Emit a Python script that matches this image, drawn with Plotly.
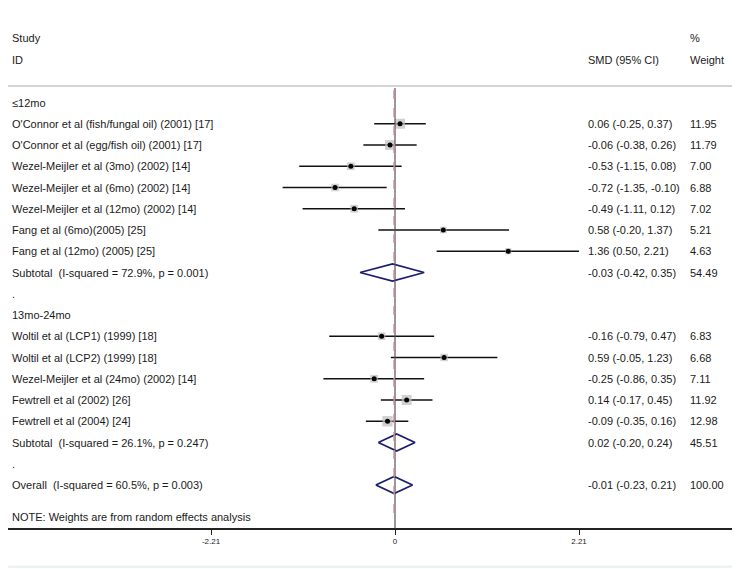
import plotly.graph_objects as go

# ---- data ----
group1_name = "≤12mo"
group1_studies = [
    "O'Connor et al (fish/fungal oil) (2001) [17]",
    "O'Connor et al (egg/fish oil) (2001) [17]",
    "Wezel-Meijler et al (3mo) (2002) [14]",
    "Wezel-Meijler et al (6mo) (2002) [14]",
    "Wezel-Meijler et al (12mo) (2002) [14]",
    "Fang et al (6mo)(2005) [25]",
    "Fang et al (12mo) (2005) [25]",
]
group1_smd = [0.06, -0.06, -0.53, -0.72, -0.49, 0.58, 1.36]
group1_lo = [-0.25, -0.38, -1.15, -1.35, -1.11, -0.20, 0.50]
group1_hi = [0.37, 0.26, 0.08, -0.10, 0.12, 1.37, 2.21]
group1_w = [11.95, 11.79, 7.00, 6.88, 7.02, 5.21, 4.63]
group1_sub = (-0.03, -0.42, 0.35, 54.49)
group1_sub_label = "Subtotal  (I-squared = 72.9%, p = 0.001)"

group2_name = "13mo-24mo"
group2_studies = [
    "Woltil et al (LCP1) (1999) [18]",
    "Woltil et al (LCP2) (1999) [18]",
    "Wezel-Meijler et al (24mo) (2002) [14]",
    "Fewtrell et al (2002) [26]",
    "Fewtrell et al (2004) [24]",
]
group2_smd = [-0.16, 0.59, -0.25, 0.14, -0.09]
group2_lo = [-0.79, -0.05, -0.86, -0.17, -0.35]
group2_hi = [0.47, 1.23, 0.35, 0.45, 0.16]
group2_w = [6.83, 6.68, 7.11, 11.92, 12.98]
group2_sub = (0.02, -0.20, 0.24, 45.51)
group2_sub_label = "Subtotal  (I-squared = 26.1%, p = 0.247)"

overall = (-0.01, -0.23, 0.21, 100.00)
overall_label = "Overall  (I-squared = 60.5%, p = 0.003)"
note = "NOTE: Weights are from random effects analysis"

tick_vals = [-2.21, 0, 2.21]
tick_text = ["-2.21", "0", "2.21"]

# ---- build rows ----
rows = []  # (kind, label, est, lo, hi, weight)
for name, studies, smd, lo, hi, w, sub, sub_label in [
    (group1_name, group1_studies, group1_smd, group1_lo, group1_hi, group1_w, group1_sub, group1_sub_label),
    (group2_name, group2_studies, group2_smd, group2_lo, group2_hi, group2_w, group2_sub, group2_sub_label),
]:
    rows.append(("head", name, None, None, None, None))
    for s, e, l, h, ww in zip(studies, smd, lo, hi, w):
        rows.append(("study", s, e, l, h, ww))
    rows.append(("sub", sub_label, *sub))
    rows.append(("dot", ".", None, None, None, None))
rows.append(("sub", overall_label, *overall))
rows.append(("note", note, None, None, None, None))

FONT = "Liberation Sans, Arial, sans-serif"
TXT = "#1a1a1a"
PAGE = 8  # browser body margin: the figure starts 8px in from the window edge
W, H = 740 - PAGE, 569 - PAGE
ZERO_PX, SCALE = 395 - PAGE, 184 / 2.21
ROW0_PX, STEP = 102.5 - PAGE, 21.25
AXIS_PX = 528 - PAGE

x_range = [-ZERO_PX / SCALE, (W - ZERO_PX) / SCALE]
y_top = -ROW0_PX / STEP
y_bot = (AXIS_PX - ROW0_PX) / STEP

def ypx(px):
    # window pixel -> row units
    return y_top + (px - PAGE) / STEP

fig = go.Figure()

ci_x, ci_y = [], []
box_x, box_y, box_s = [], [], []
dia_x, dia_y = [], []
annotations = []

def add_text(x_px, y, text, size=11):
    annotations.append(dict(
        x=(x_px - PAGE) / W, xref="paper", y=y, yref="y", text=text, showarrow=False,
        xanchor="left", yanchor="middle", font=dict(family=FONT, size=size, color=TXT),
    ))

for i, (kind, label, est, lo, hi, w) in enumerate(rows):
    y = i if kind != "note" else ypx(517)
    add_text(10, y, label)
    if kind == "study":
        ci_x += [lo, hi, None]
        ci_y += [i, i, None]
        box_x.append(est)
        box_y.append(i)
        box_s.append(10 * (w / 11.95) ** 0.5)
    if kind == "sub":
        dia_x += [lo, est, hi, est, lo, None]
        dia_y += [i, i - 0.4, i, i + 0.4, i, None]
    if kind in ("study", "sub"):
        add_text(586, i, f"{est:.2f} ({lo:.2f}, {hi:.2f})")
        add_text(688, i, f"{w:.2f}")

# header
add_text(10, ypx(37.5), "Study")
add_text(10, ypx(59.5), "ID")
add_text(586, ypx(59.5), "SMD (95% CI)")
add_text(688, ypx(37.5), "%")
add_text(688, ypx(59.5), "Weight")

fig.add_trace(go.Scatter(
    x=ci_x, y=ci_y, mode="lines", line=dict(color="#111111", width=1.6),
    hoverinfo="skip", showlegend=False,
))
fig.add_trace(go.Scatter(
    x=box_x, y=box_y, mode="markers",
    marker=dict(symbol="square", size=box_s, color="#bdbdbd", line=dict(width=0)),
    hoverinfo="skip", showlegend=False,
))
fig.add_trace(go.Scatter(
    x=box_x, y=box_y, mode="markers",
    marker=dict(symbol="circle", size=5, color="#000000"),
    hoverinfo="skip", showlegend=False,
))
fig.add_trace(go.Scatter(
    x=dia_x, y=dia_y, mode="lines", line=dict(color="#1a1f6b", width=1.8),
    hoverinfo="skip", showlegend=False,
))

shapes = [
    # header separator
    dict(type="line", xref="paper", x0=0, x1=1, yref="y",
         y0=ypx(86), y1=ypx(86), line=dict(color="#d4d4d4", width=2)),
    # no-effect line
    dict(type="line", xref="x", x0=0, x1=0, yref="y",
         y0=ypx(88), y1=y_bot, line=dict(color="#555555", width=1.2)),
    # overall estimate
    dict(type="line", xref="x", x0=overall[0], x1=overall[0], yref="y",
         y0=ypx(90), y1=ypx(522),
         line=dict(color="#c48a94", width=1.6, dash="dash")),
    # faint frame at bottom
    dict(type="line", xref="paper", yref="paper", x0=0, x1=1, y0=0.004, y1=0.004,
         line=dict(color="#e8f0f0", width=2)),
]

fig.update_layout(
    width=W, height=H,
    margin=dict(l=0, r=0, t=0, b=0),
    paper_bgcolor="white", plot_bgcolor="white",
    showlegend=False,
    annotations=annotations,
    shapes=shapes,
    xaxis=dict(
        range=x_range, showgrid=False, zeroline=False,
        showline=True, linecolor="#222222", linewidth=1.5,
        ticks="outside", ticklen=5, tickwidth=1, tickcolor="#222222",
        tickvals=tick_vals, ticktext=tick_text,
        tickfont=dict(family=FONT, size=8, color=TXT),
        fixedrange=True,
    ),
    yaxis=dict(
        range=[y_bot, y_top], domain=[(H - AXIS_PX) / H, 1],
        showgrid=False, zeroline=False, showticklabels=False, showline=False,
        fixedrange=True,
    ),
)

fig.write_html("out.html")
